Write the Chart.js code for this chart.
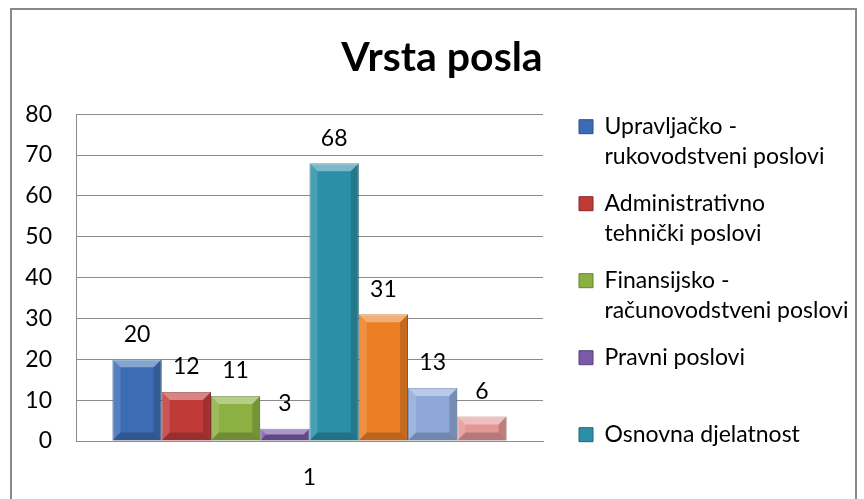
<!DOCTYPE html>
<html>
<head>
<meta charset="utf-8">
<script src="https://cdn.jsdelivr.net/npm/chart.js@4.4.1/dist/chart.umd.min.js"></script>
<style>
  html, body { margin: 0; padding: 0; background: #fff; overflow: hidden; }
  canvas { display: block; }
</style>
</head>
<body>
<canvas id="chart" width="864" height="499"></canvas>
<script>
const categories = ["1"];
const seriesNames = [
  "Upravljačko - rukovodstveni poslovi",
  "Administrativno tehnički poslovi",
  "Finansijsko - računovodstveni poslovi",
  "Pravni poslovi",
  "Osnovna djelatnost",
  "Serija 6",
  "Serija 7",
  "Serija 8"
];
const seriesValues = [20, 12, 11, 3, 68, 31, 13, 6];
const legendLines = [
  ["Upravljačko -", "rukovodstveni poslovi"],
  ["Administrativno", "tehnički poslovi"],
  ["Finansijsko -", "računovodstveni poslovi"],
  ["Pravni poslovi", ""],
  ["Osnovna djelatnost"]
];
const yTicks = [0, 10, 20, 30, 40, 50, 60, 70, 80];

const fills = ["#3c6db4", "#c03a38", "#8cb042", "#7a5aa6", "#2b8fa7", "#ec7f24", "#8ea9d9", "#e29897"];
const edges = ["#2a5089", "#8e2624", "#66832c", "#563f7a", "#1d6a7c", "#b55d16", "#6580b0", "#b36a69"];
const GRID = "#8c8c8c";
const FONT = "Lato";

Chart.defaults.font.family = FONT;
Chart.defaults.color = "#000";

// outer frame of the excel chart object
const frame = {
  id: "frame",
  afterDraw(chart) {
    const ctx = chart.ctx;
    ctx.save();
    ctx.strokeStyle = "#898989";
    ctx.lineWidth = 2;
    ctx.strokeRect(11, 9, 845, chart.height + 10);
    ctx.restore();
  }
};

// bevel look like the excel bars
const bevel = {
  id: "bevel",
  afterDatasetsDraw(chart) {
    const ctx = chart.ctx;
    chart.data.datasets.forEach((ds, i) => {
      chart.getDatasetMeta(i).data.forEach((bar) => {
        const p = bar.getProps(["x", "y", "base", "width"], true);
        const l = p.x - p.width / 2, r = p.x + p.width / 2;
        const t = Math.min(p.y, p.base), b = Math.max(p.y, p.base);
        const d = Math.min(8, (b - t) / 2);
        const face = (pts, fill) => {
          ctx.beginPath();
          ctx.moveTo(pts[0][0], pts[0][1]);
          pts.slice(1).forEach((q) => ctx.lineTo(q[0], q[1]));
          ctx.closePath();
          ctx.fillStyle = fill;
          ctx.fill();
        };
        ctx.save();
        face([[l, t], [r, t], [r - d, t + d], [l + d, t + d]], "rgba(255,255,255,0.38)");
        face([[l, t], [l + d, t + d], [l + d, b - d], [l, b]], "rgba(255,255,255,0.14)");
        face([[r, t], [r, b], [r - d, b - d], [r - d, t + d]], "rgba(0,0,0,0.16)");
        face([[l, b], [l + d, b - d], [r - d, b - d], [r, b]], "rgba(0,0,0,0.2)");
        ctx.restore();
      });
    });
  }
};

const valueLabels = {
  id: "valueLabels",
  afterDatasetsDraw(chart) {
    const ctx = chart.ctx;
    ctx.save();
    ctx.font = "23px " + FONT;
    ctx.fillStyle = "#000";
    ctx.textAlign = "center";
    ctx.textBaseline = "middle";
    chart.data.datasets.forEach((ds, i) => {
      chart.getDatasetMeta(i).data.forEach((bar, j) => {
        ctx.fillText(String(ds.data[j]), bar.x, bar.y - 25);
      });
    });
    ctx.restore();
  }
};

// legend sits a bit away from the plot, like in excel
const legendPlacer = {
  id: "legendPlacer",
  afterInit(chart) {
    const lg = chart.legend;
    const fit = lg.fit;
    lg.fit = function () {
      this.maxHeight = chart.height;
      fit.call(this);
      this.width = 321;
    };
  },
  afterLayout(chart) {
    const lg = chart.legend;
    lg.left = chart.chartArea.right + 19;
    lg.right = lg.left + lg.width;
    lg.top = chart.chartArea.top - 16;
    lg.bottom = chart.height;
    lg.height = lg.bottom - lg.top;
  }
};

const datasets = seriesNames.map((name, i) => ({
  label: name,
  data: [seriesValues[i]],
  backgroundColor: fills[i],
  borderColor: edges[i],
  borderWidth: 1,
  categoryPercentage: 0.844,
  barPercentage: 1.0
}));

new Chart(document.getElementById("chart"), {
  type: "bar",
  data: { labels: categories, datasets: datasets },
  options: {
    responsive: false,
    animation: false,
    layout: { padding: { left: 20, right: 0, top: 0, bottom: 0 } },
    plugins: {
      title: {
        display: true,
        text: "Vrsta posla",
        color: "#000",
        font: { family: FONT, size: 41, weight: "bold", lineHeight: 1.2 },
        padding: { top: 33, bottom: 32 }
      },
      legend: {
        position: "right",
        align: "start",
        labels: {
          boxWidth: 14,
          boxHeight: 14,
          padding: 17,
          color: "#000",
          font: { family: FONT, size: 23, lineHeight: 30 / 23 },
          generateLabels(chart) {
            return chart.data.datasets.slice(0, legendLines.length).map((ds, i) => ({
              text: legendLines[i],
              fillStyle: ds.backgroundColor,
              strokeStyle: ds.borderColor,
              lineWidth: 1,
              hidden: false,
              datasetIndex: i
            }));
          }
        }
      },
      tooltip: { enabled: false }
    },
    scales: {
      x: {
        grid: { display: false, drawTicks: false },
        border: { display: true, color: GRID, width: 1 },
        ticks: { font: { size: 23 }, color: "#000", padding: 23 },
        afterFit(scale) { scale.height = 58; }
      },
      y: {
        min: 0,
        max: 80,
        grid: { color: GRID, drawTicks: false },
        border: { color: GRID, width: 1 },
        ticks: { font: { size: 23 }, color: "#000", padding: 24 },
        afterBuildTicks(scale) { scale.ticks = yTicks.map((v) => ({ value: v })); },
        afterFit(scale) { scale.width = 56; }
      }
    }
  },
  plugins: [frame, bevel, valueLabels, legendPlacer]
});
</script>
</body>
</html>
